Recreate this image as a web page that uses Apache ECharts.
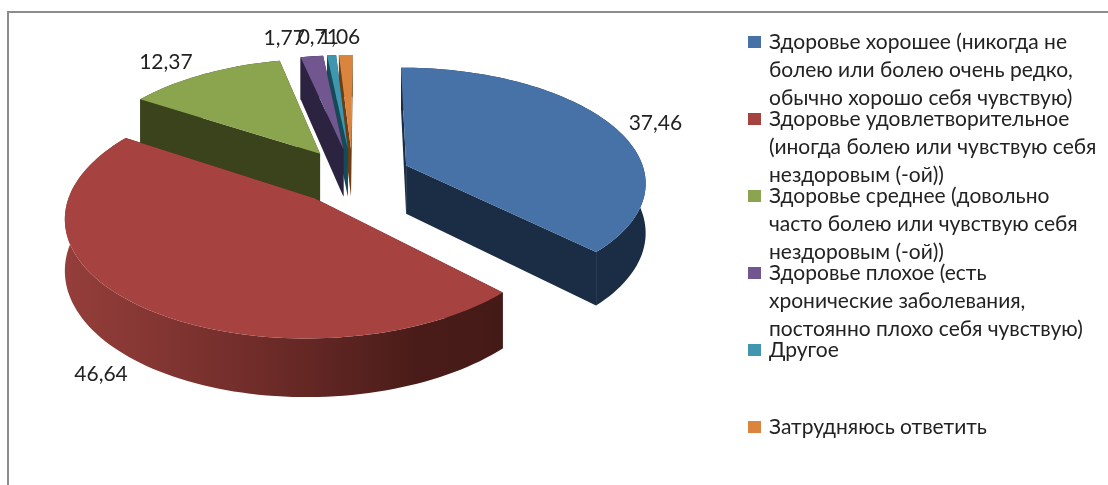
<!DOCTYPE html>
<html><head><meta charset="utf-8">
<style>html,body{margin:0;padding:0;background:#fff}#c{width:1108px;height:485px}</style>
<script src="https://cdn.jsdelivr.net/npm/echarts@6/dist/echarts.min.js"></script>
</head><body><div id="c"></div>
<script>
const categories = [
  'Здоровье хорошее (никогда не болею или болею очень редко, обычно хорошо себя чувствую)',
  'Здоровье удовлетворительное (иногда болею или чувствую себя нездоровым (-ой))',
  'Здоровье среднее (довольно часто болею или чувствую себя нездоровым (-ой))',
  'Здоровье плохое (есть хронические заболевания, постоянно плохо себя чувствую)',
  'Другое',
  'Затрудняюсь ответить'
];
const legendLines = [
  'Здоровье хорошее (никогда не\nболею или болею очень редко,\nобычно хорошо себя чувствую)',
  'Здоровье удовлетворительное\n(иногда болею или чувствую себя\nнездоровым (-ой))',
  'Здоровье среднее (довольно\nчасто болею или чувствую себя\nнездоровым (-ой))',
  'Здоровье плохое (есть\nхронические заболевания,\nпостоянно плохо себя чувствую)',
  'Другое\n \n ',
  'Затрудняюсь ответить\n \n '
];
const values = [37.46, 46.64, 12.37, 1.77, 0.71, 1.06];
const valueLabels = ['37,46', '46,64', '12,37', '1,77', '0,71', '1,06'];
const topColors = ['#4672a8', '#a64340', '#8aa54e', '#71568f', '#4096ae', '#db843d'];
const wallColors = ['#1a2d45', '#441a17', '#3a431c', '#2c2340', '#154a58', '#6b3e14'];
const labelShift = [[40, -1], [-30, 68], [-36, -10], [-27, -16], [-13, -16], [-6, -16]];

const FONT = 'Lato, Roboto, "Noto Sans", sans-serif';
const V = {cx: 352.5, vx: 364, vy: -650, H: 826, R: 239.5, k: 0.138, explode: 0.245, T: 49};
const total = values.reduce((a, b) => a + b, 0);

function project(u, w, down) {
  const s = 1 / (1 + w * V.k);
  return [V.vx + (V.cx - V.vx + u * V.R) * s, V.vy + (V.H + down) * s];
}
function sliceAngles(i) {
  let before = 0;
  for (let j = 0; j < i; j++) before += values[j];
  return [before / total * 2 * Math.PI, (before + values[i]) / total * 2 * Math.PI];
}
function renderSlice(i, value) {
  const a0 = sliceAngles(i)[0];
  const a1 = a0 + value / total * 2 * Math.PI;
  const mid = (a0 + a1) / 2;
  const ou = V.explode * Math.sin(mid), ow = V.explode * Math.cos(mid);
  const steps = Math.max(2, Math.ceil((a1 - a0) / 0.03));
  const topArc = [], botArc = [];
  for (let n = 0; n <= steps; n++) {
    const a = a0 + (a1 - a0) * n / steps;
    const u = ou + Math.sin(a), w = ow + Math.cos(a);
    topArc.push(project(u, w, 0));
    botArc.push(project(u, w, V.T));
  }
  const apexTop = project(ou, ow, 0), apexBot = project(ou, ow, V.T);
  const wall = wallColors[i];
  const arcFill = i === 1
    ? {type: 'linear', x: 0, y: 0, x2: 1, y2: 0, colorStops: [
        {offset: 0, color: '#953e3b'}, {offset: 0.45, color: '#6f2c29'}, {offset: 0.8, color: '#4a1c19'}, {offset: 1, color: wall}]}
    : wall;
  const poly = (points, fill) => ({type: 'polygon', shape: {points}, style: {fill}});
  const lp = project(ou + 1.02 * Math.sin(mid), ow + 1.02 * Math.cos(mid), 0);
  return {
    type: 'group',
    children: [
      poly([apexTop, topArc[0], botArc[0], apexBot], wall),
      poly([apexTop, topArc[steps], botArc[steps], apexBot], wall),
      poly(topArc.concat(botArc.slice().reverse()), arcFill),
      poly([apexTop].concat(topArc), topColors[i]),
      {type: 'text', z2: 50, style: {
        text: valueLabels[i], x: lp[0] + labelShift[i][0], y: lp[1] + labelShift[i][1],
        align: 'center', verticalAlign: 'middle', font: '21px ' + FONT, fill: '#222'}}
    ]
  };
}
const series = categories.map((name, i) => {
  const [a0, a1] = sliceAngles(i);
  return {
    type: 'custom', name, coordinateSystem: 'none',
    z: 10 - Math.cos((a0 + a1) / 2) * 5,
    silent: true, animation: false,
    itemStyle: {color: topColors[i]},
    data: [[values[i]]],
    renderItem: (params, api) => renderSlice(i, api.value(0))
  };
});
const chart = echarts.init(document.getElementById('c'), null, {renderer: 'canvas'});
chart.setOption({
  animation: false,
  backgroundColor: '#fff',
  graphic: [{type: 'polyline', silent: true, shape: {points: [[8, 485], [8, 12], [1108, 12]]},
    style: {stroke: '#8c8c8c', lineWidth: 2, fill: null}}],
  legend: {
    orient: 'vertical', left: 743, top: 23, height: 700, align: 'left',
    data: categories, selectedMode: false,
    itemWidth: 16, itemHeight: 84, itemGap: -7,
    icon: 'path://M0 8H13V20H0Z M16 0L16 0Z M0 84L0 84Z',
    formatter: name => legendLines[categories.indexOf(name)],
    textStyle: {fontFamily: FONT, fontSize: 21, lineHeight: 28, color: '#222'}
  },
  series
});
</script></body></html>
